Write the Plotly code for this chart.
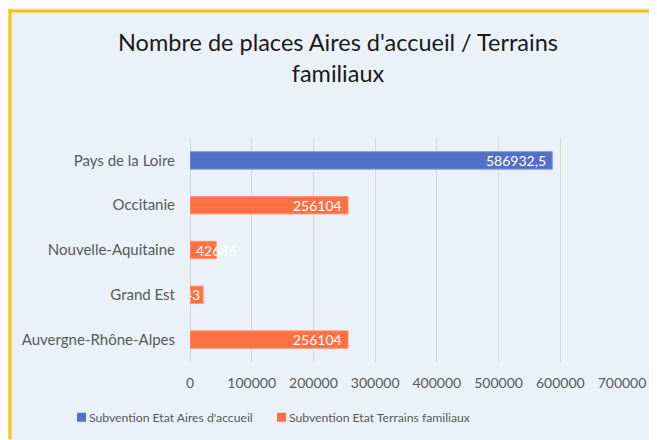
import plotly.graph_objects as go

categories = ["Auvergne-Rhône-Alpes", "Grand Est", "Nouvelle-Aquitaine", "Occitanie", "Pays de la Loire"]
aires_accueil = [None, None, None, None, 586932.5]
terrains_familiaux = [256104, 21343, 42686, 256104, None]
x_ticks = [0, 100000, 200000, 300000, 400000, 500000, 600000, 700000]
series_names = ["Subvention Etat Aires d'accueil", "Subvention Etat Terrains familiaux"]

BLUE = "#5470C6"
ORANGE = "#FF7043"
FONT = "Lato"
GRAY = "#595959"
BG = "#EBF1F9"
YELLOW = "#FFC000"


def fmt(v):
    if float(v).is_integer():
        return str(int(v))
    return repr(float(v)).replace(".", ",")


# figure is placed by the page with an 8px body margin
W, H = 649, 432
L, R, T, B = 182, 35, 129.5, 77.5
pw, ph = W - L - R, H - T - B


def px_x(p):
    return (p - L) / pw


def px_y(p):
    return (H - B - p) / ph


SMALL = 30000

fig = go.Figure()
annotations = []
for name, vals, col, edge in [(series_names[0], aires_accueil, BLUE, "#7D93D6"),
                              (series_names[1], terrains_familiaux, ORANGE, "#FF9A7A")]:
    # very small bars: label right-aligned inside the bar end, clipped by the plot area
    txt = [fmt(v) if (v is not None and v < SMALL) else "" for v in vals]
    fig.add_trace(go.Bar(
        y=categories, x=vals, orientation="h", name=name,
        marker=dict(color=col, line=dict(color=edge, width=1)),
        text=txt, textposition="inside", insidetextanchor="end", textangle=0,
        constraintext="none", cliponaxis=True,
        textfont=dict(color="white", size=14, family=FONT),
        width=0.39, showlegend=False, hoverinfo="x+y+name",
    ))
    for cat, v in zip(categories, vals):
        if v is None or v < SMALL:
            continue
        if v >= 100000:
            anchor, shift = "right", -4
        else:
            anchor, shift = "center", 0
        annotations.append(dict(x=v, y=cat, xref="x", yref="y", text=fmt(v), showarrow=False,
                                xanchor=anchor, xshift=shift, yanchor="middle",
                                font=dict(color="white", size=14, family=FONT)))

# manual legend (squares + labels)
shapes = []
legend_items = [(69, BLUE, series_names[0]), (269, ORANGE, series_names[1])]
for x0, col, name in legend_items:
    shapes.append(dict(type="rect", xref="paper", yref="paper",
                       x0=px_x(x0), x1=px_x(x0 + 9), y0=px_y(405.5), y1=px_y(414.5),
                       fillcolor=col, line_width=0))
    annotations.append(dict(x=px_x(x0 + 10), y=px_y(410), xref="paper", yref="paper",
                            text=name, showarrow=False, xanchor="left", yanchor="middle",
                            font=dict(size=12.2, color=GRAY, family=FONT)))

# chart frame (yellow border top and left)
shapes += [
    dict(type="line", xref="paper", yref="paper", x0=px_x(0.5), x1=px_x(W), y0=px_y(2), y1=px_y(2),
         line=dict(color=YELLOW, width=3), layer="below"),
    dict(type="line", xref="paper", yref="paper", x0=px_x(2), x1=px_x(2), y0=px_y(0.5), y1=px_y(H),
         line=dict(color=YELLOW, width=3), layer="below"),
]

fig.update_layout(
    width=W, height=H,
    margin=dict(l=L, r=R, t=T, b=B, pad=0),
    paper_bgcolor=BG, plot_bgcolor="rgba(0,0,0,0)",
    barmode="overlay",
    title=dict(text="Nombre de places Aires d'accueil / Terrains<br>familiaux",
               x=330 / W, xanchor="center", y=1 - 43 / H, yanchor="top",
               font=dict(family=FONT, size=23.5, color="#1a1a1a")),
    font=dict(family=FONT, size=14, color=GRAY),
    xaxis=dict(range=[0, 700000], tickvals=x_ticks, ticktext=[str(v) for v in x_ticks],
               showgrid=True, gridcolor="#D9D9D9", gridwidth=1, zeroline=True,
               zerolinecolor="#D9D9D9", zerolinewidth=1, showline=False, ticks="",
               ticklabelstandoff=11,
               tickfont=dict(size=14, color=GRAY, family=FONT), fixedrange=True),
    yaxis=dict(categoryorder="array", categoryarray=categories, showgrid=False, ticks="",
               ticklabelstandoff=14, tickfont=dict(size=15, color=GRAY, family=FONT), showline=False),
    annotations=annotations,
    shapes=shapes,
    showlegend=False,
)

fig.write_html("out.html")
